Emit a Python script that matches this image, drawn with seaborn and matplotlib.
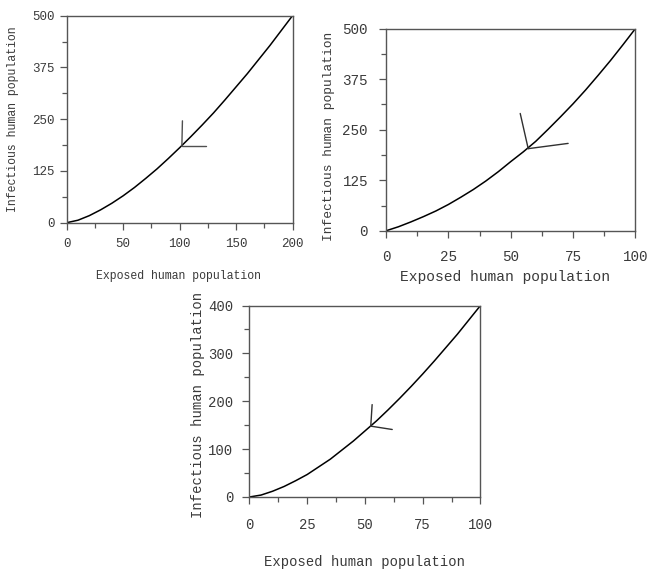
import numpy as np
import matplotlib.pyplot as plt
import seaborn as sns
from matplotlib.ticker import MultipleLocator

# panel a (top left)
exposed_a = [0, 10, 20, 30, 40, 50, 60, 70, 80, 90, 100, 110, 120, 130, 140, 150, 160, 170, 180, 190, 200]
infectious_a = [0, 6, 17, 31, 47, 65, 85, 107, 130, 155, 181, 208, 236, 265, 296, 328, 360, 394, 428, 464, 500]
vertex_a = [102, 185]
ends_a = [[102.5, 246], [123.5, 185]]

# panel b (top right)
exposed_b = [0, 5, 10, 15, 20, 25, 30, 35, 40, 45, 50, 55, 60, 65, 70, 75, 80, 85, 90, 95, 100]
infectious_b = [0, 10, 22, 35, 49, 65, 83, 102, 123, 146, 171, 195, 221, 251, 282, 314, 348, 384, 421, 460, 500]
vertex_b = [57, 203]
ends_b = [[53.8, 290], [73, 216]]

# panel c (bottom)
exposed_c = [0, 5, 10, 15, 20, 25, 30, 35, 40, 45, 50, 55, 60, 65, 70, 75, 80, 85, 90, 95, 100]
infectious_c = [0, 4, 12, 22, 34, 47, 63, 79, 98, 117, 138, 159, 182, 206, 231, 257, 284, 312, 340, 370, 400]
vertex_c = [52.5, 148]
ends_c = [[53.1, 193], [61.8, 141]]

XLABEL = "Exposed human population"
YLABEL = "Infectious human population"

sns.set_theme(style="ticks")
plt.rcParams['font.family'] = ['Liberation Mono', 'DejaVu Sans Mono']

TEXT = '#3a3a3a'
SPINE = '#555555'

fig = plt.figure(figsize=(6.47, 5.70), dpi=100)


def panel(rect, x, y, vertex, ends, xmax, ymax, xstep, ystep,
          tick_fs, xl_fs, yl_fs, xl_pos, yl_pos, xpad, ypad, seg_color):
    ax = fig.add_axes(rect)
    sns.lineplot(x=x, y=y, ax=ax, color='black', linewidth=1.1)
    for ex, ey in ends:
        ax.plot([vertex[0], ex], [vertex[1], ey], color=seg_color, linewidth=1.0)
    ax.set_xlim(0, xmax)
    ax.set_ylim(0, ymax)
    ax.xaxis.set_major_locator(MultipleLocator(xstep))
    ax.xaxis.set_minor_locator(MultipleLocator(xstep / 2))
    ax.yaxis.set_major_locator(MultipleLocator(ystep))
    ax.yaxis.set_minor_locator(MultipleLocator(ystep / 2))
    ax.tick_params(which='major', length=5, width=0.9, color=SPINE, labelcolor=TEXT,
                   labelsize=tick_fs)
    ax.tick_params(which='minor', length=3.6, width=0.9, color=SPINE)
    ax.tick_params(axis='x', which='major', pad=xpad)
    ax.tick_params(axis='y', which='major', pad=ypad)
    for s in ax.spines.values():
        s.set_color(SPINE)
        s.set_linewidth(1.0)
    ax.set_xlabel(XLABEL, fontsize=xl_fs, color=TEXT)
    ax.set_ylabel(YLABEL, fontsize=yl_fs, color=TEXT)
    ax.xaxis.set_label_coords(*xl_pos)
    ax.yaxis.set_label_coords(*yl_pos)
    ax.xaxis.label.set_verticalalignment('center')
    ax.yaxis.label.set_verticalalignment('center')
    return ax


panel([0.1031, 0.6093, 0.349, 0.3632], exposed_a, infectious_a, vertex_a, ends_a,
      200, 500, 50, 125, 9, 8.3, 8.3, (0.493, -0.257), (-0.238, 0.5), 6, 3.5, '#505050')

panel([0.5966, 0.5951, 0.3856, 0.3549], exposed_b, infectious_b, vertex_b, ends_b,
      100, 500, 25, 125, 10.3, 10.5, 9.3, (0.475, -0.228), (-0.228, 0.469), 8.5, 8, '#303030')

panel([0.3856, 0.1281, 0.357, 0.3359], exposed_c, infectious_c, vertex_c, ends_c,
      100, 400, 25, 100, 10, 10, 10, (0.498, -0.339), (-0.223, 0.48), 10, 6.5, '#303030')

fig.savefig("out.png", dpi=100)
